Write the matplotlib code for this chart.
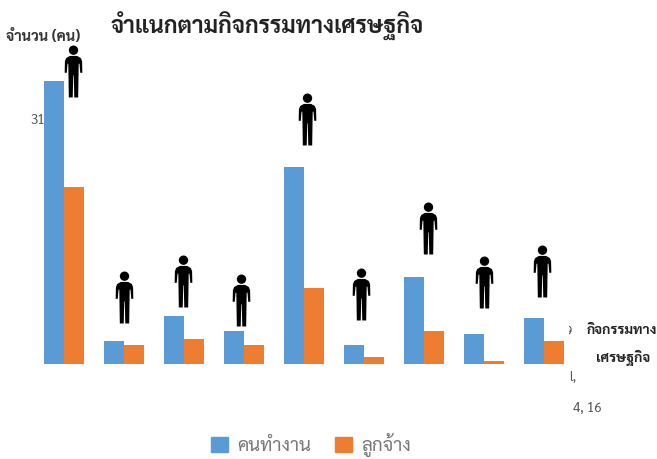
# จำแนกตามกิจกรรมทางเศรษฐกิจ
import logging
import matplotlib
matplotlib.use("Agg")
import matplotlib.pyplot as plt
from matplotlib.path import Path
from matplotlib.patches import Patch
from matplotlib.transforms import Bbox

logging.getLogger("matplotlib.font_manager").setLevel(logging.ERROR)
plt.rcParams['font.family'] = ['Sarabun', 'Bai Jamjuree', 'Noto Sans Thai', 'Noto Sans', 'DejaVu Sans']

groups = list(range(9))
workers = [283, 23, 48, 33, 197, 19, 87, 30, 46]
employees = [177, 19, 25, 19, 76, 7, 33, 3, 23]
person_base = [267, 41, 57, 38, 219, 44, 110, 56, 67]
person_shift = [0.15, 0.0, -0.02, -0.05, 0.05, -0.05, 0.06, 0.0, -0.04]

title = "จำแนกตามกิจกรรมทางเศรษฐกิจ"
ylabel = "จำนวน (คน)"
xlabel = ["กิจกรรมทาง", "เศรษฐกิจ"]
legend_names = ["คนทำงาน", "ลูกจ้าง"]
blue = "#5B9BD5"
orange = "#ED7D31"


def person_marker():
	# หัว + ตัว รูปคนแบบง่าย
	head = Path.circle((0, 0.82), 0.18)
	body = Path([(-0.14, 0.60), (0.14, 0.60), (0.28, 0.52), (0.33, 0.40), (0.34, -0.05),
		(0.26, -0.05), (0.23, 0.30), (0.20, 0.30), (0.18, -1.0), (0.03, -1.0),
		(0.01, -0.15), (-0.01, -0.15), (-0.03, -1.0), (-0.18, -1.0), (-0.20, 0.30), (-0.23, 0.30),
		(-0.26, -0.05), (-0.34, -0.05), (-0.33, 0.40), (-0.28, 0.52), (-0.14, 0.60)],
		closed=True)
	return Path.make_compound_path(head, body)


fig = plt.figure(figsize=(6.57, 4.59), dpi=100)
ax = fig.add_axes([0, 0, 1, 1])
ax.set_xlim(-1.07, 9.88)
ax.set_ylim(-95, 364)
ax.axis("off")

w = 0.335
ax.bar([g - w / 2 for g in groups], workers, w, color=blue, zorder=3)
ax.bar([g + w / 2 for g in groups], employees, w, color=orange, zorder=3)

# คนยืนบนแต่ละกลุ่ม
marker = person_marker()
for g, b, s in zip(groups, person_base, person_shift):
	ax.scatter(g + s, b + 26, marker=marker, s=1400, color="black", linewidths=0, zorder=4)

fig.text(267 / 657, 1 - 26 / 459, title, fontsize=16.5, fontweight="bold", color="#222222", ha="center", va="center")
fig.text(43 / 657, 1 - 36 / 459, ylabel, fontsize=10.5, fontweight="bold", color="#333333", ha="center", va="center")
fig.text(622 / 657, 1 - 331 / 459, xlabel[0], fontsize=10, fontweight="bold", color="#222222", ha="center", va="center")
fig.text(623 / 657, 1 - 358 / 459, xlabel[1], fontsize=10, fontweight="bold", color="#222222", ha="center", va="center")

# ตัวเลขที่เหลือจากต้นฉบับ
ax.text(38 / 657, 1 - 120 / 459, "31", fontsize=9.5, color="#555555", ha="center", va="center", zorder=1, transform=fig.transFigure)
t9 = ax.text(568 / 657, 1 - 332 / 459, "9", fontsize=9.5, color="#555555", ha="center", va="center", transform=fig.transFigure)
t9.set_clip_box(Bbox([[569, 0], [657, 459]]))
t9.set_clip_on(True)
fig.text(573 / 657, 1 - 377 / 459, "l,", fontsize=9.5, color="#555555", ha="center", va="center")
fig.text(587 / 657, 1 - 408 / 459, "4, 16", fontsize=9.5, color="#555555", ha="center", va="center")

handles = [Patch(color=blue, label=legend_names[0]), Patch(color=orange, label=legend_names[1])]
fig.legend(handles=handles, loc="center", bbox_to_anchor=(311 / 657, 1 - 445 / 459), ncol=2, frameon=False,
	fontsize=13.5, labelcolor="#777777", handlelength=0.9, handleheight=0.9, handletextpad=0.5, columnspacing=1.3)

fig.savefig("out.png", dpi=100)
